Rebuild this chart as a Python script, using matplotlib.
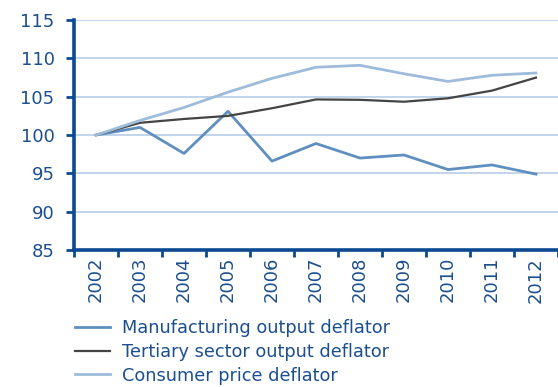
import numpy as np
import matplotlib.pyplot as plt

years = ["2002", "2003", "2004", "2005", "2006", "2007", "2008", "2009", "2010", "2011", "2012"]
manufacturing = [100.0, 101.0, 97.6, 103.1, 96.6, 98.9, 97.0, 97.4, 95.5, 96.1, 94.9]
tertiary = [100.0, 101.6, 102.1, 102.5, 103.5, 104.65, 104.6, 104.35, 104.8, 105.8, 107.5]
consumer = [100.0, 101.9, 103.6, 105.6, 107.4, 108.85, 109.1, 108.0, 107.0, 107.8, 108.1]
labels = ["Manufacturing output deflator", "Tertiary sector output deflator", "Consumer price deflator"]

navy = "#0b4a92"
text_col = "#1c4f8e"

fig = plt.figure(figsize=(5.58, 3.87), dpi=100)
ax = fig.add_axes([0.1326, 0.354, 0.8674, 0.594])

x = np.arange(len(years))
ax.plot(x, manufacturing, color="#5f8fbf", lw=2.0, label=labels[0])
ax.plot(x, tertiary, color="#444444", lw=1.6, label=labels[1])
ax.plot(x, consumer, color="#9dbcdb", lw=2.0, label=labels[2])

ax.set_ylim(85, 115)
ax.set_xlim(-0.5, len(years) - 0.5)
ax.set_yticks(np.arange(85, 116, 5))
for v in np.arange(90, 116, 5):
    ax.axhline(v, color="#bcd1e8", lw=1.3, zorder=0)

ax.set_xticks(x)
ax.set_xticklabels(years, rotation=90)
ax.set_xticks(np.arange(-0.5, len(years), 1), minor=True)
ax.tick_params(axis="x", which="major", length=0, pad=5, labelsize=13, labelcolor=text_col)
ax.tick_params(axis="x", which="minor", length=5, width=2, color=navy, direction="out")
ax.tick_params(axis="y", length=6, width=2, color=navy, labelsize=13, labelcolor=text_col, pad=8)

for s in ["top", "right"]:
    ax.spines[s].set_visible(False)
for s in ["left", "bottom"]:
    ax.spines[s].set_color(navy)
    ax.spines[s].set_linewidth(2.6)

fig.legend(loc="upper left", bbox_to_anchor=(0.134, 0.176), frameon=False,
           fontsize=12.8, labelcolor=text_col, handlelength=2.0, handletextpad=0.65,
           labelspacing=0.33, borderaxespad=0, borderpad=0)

fig.savefig("out.png", dpi=100)
